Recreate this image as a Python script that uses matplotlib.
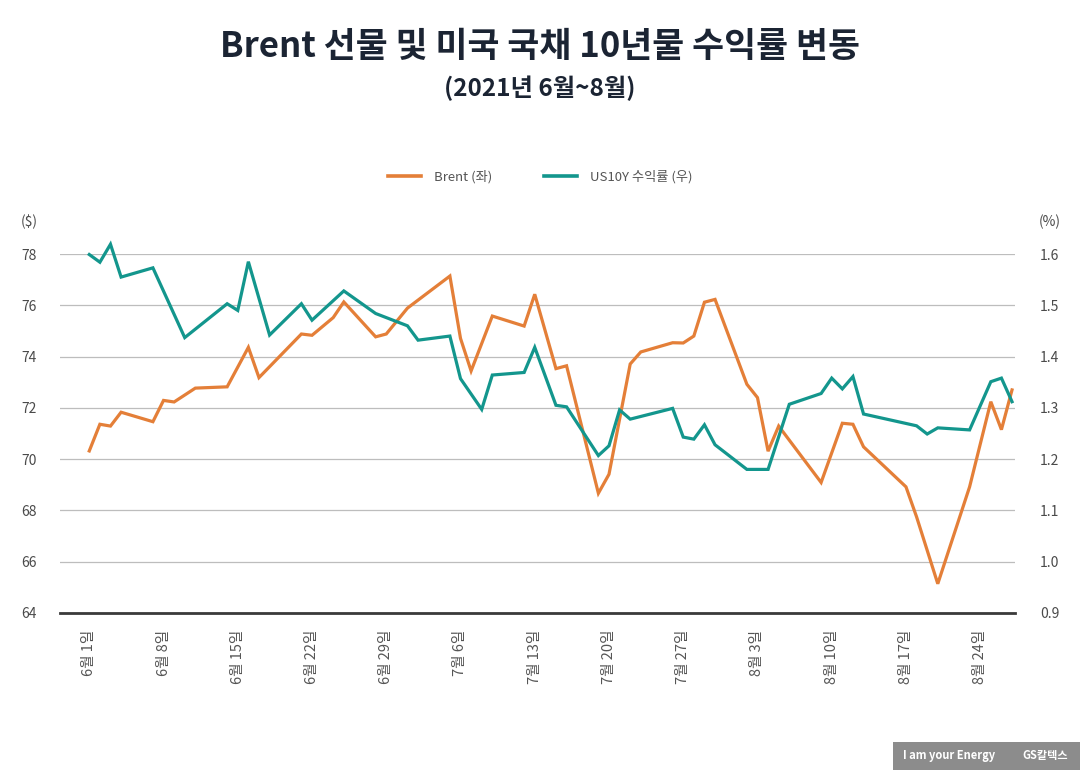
import matplotlib
matplotlib.use('Agg')
import matplotlib.pyplot as plt
import pandas as pd
from matplotlib.lines import Line2D
from matplotlib.patches import Rectangle

plt.rcParams['font.family'] = ['Noto Sans CJK KR', 'DejaVu Sans']

# ---------------- data ----------------
brent_dates = ['2021-06-01', '2021-06-02', '2021-06-03', '2021-06-04', '2021-06-07',
               '2021-06-08', '2021-06-09', '2021-06-11', '2021-06-14', '2021-06-16',
               '2021-06-17', '2021-06-21', '2021-06-22', '2021-06-24', '2021-06-25',
               '2021-06-28', '2021-06-29', '2021-07-01', '2021-07-05', '2021-07-06',
               '2021-07-07', '2021-07-09', '2021-07-12', '2021-07-13', '2021-07-15',
               '2021-07-16', '2021-07-19', '2021-07-20', '2021-07-22', '2021-07-23',
               '2021-07-26', '2021-07-27', '2021-07-28', '2021-07-29', '2021-07-30',
               '2021-08-02', '2021-08-03', '2021-08-04', '2021-08-05', '2021-08-09',
               '2021-08-11', '2021-08-12', '2021-08-13', '2021-08-17', '2021-08-18',
               '2021-08-20', '2021-08-23', '2021-08-25', '2021-08-26', '2021-08-27']
brent_values = [70.32, 71.36, 71.29, 71.83, 71.46,
                72.29, 72.23, 72.77, 72.82, 74.36,
                73.18, 74.88, 74.83, 75.52, 76.13,
                74.77, 74.88, 75.89, 77.14, 74.71,
                73.44, 75.58, 75.19, 76.43, 73.53,
                73.64, 68.67, 69.41, 73.71, 74.18,
                74.54, 74.53, 74.80, 76.12, 76.23,
                72.92, 72.40, 70.31, 71.29, 69.09,
                71.40, 71.36, 70.48, 68.92, 67.75,
                65.14, 68.92, 72.24, 71.15, 72.70]

us10y_dates = ['2021-06-01', '2021-06-02', '2021-06-03', '2021-06-04', '2021-06-07',
               '2021-06-10', '2021-06-14', '2021-06-15', '2021-06-16', '2021-06-18',
               '2021-06-21', '2021-06-22', '2021-06-25', '2021-06-28', '2021-07-01',
               '2021-07-02', '2021-07-05', '2021-07-06', '2021-07-08', '2021-07-09',
               '2021-07-12', '2021-07-13', '2021-07-15', '2021-07-16', '2021-07-19',
               '2021-07-20', '2021-07-21', '2021-07-22', '2021-07-26', '2021-07-27',
               '2021-07-28', '2021-07-29', '2021-07-30', '2021-08-02', '2021-08-04',
               '2021-08-06', '2021-08-09', '2021-08-10', '2021-08-11', '2021-08-12',
               '2021-08-13', '2021-08-18', '2021-08-19', '2021-08-20', '2021-08-23',
               '2021-08-25', '2021-08-26', '2021-08-27']
us10y_values = [1.599, 1.584, 1.619, 1.555, 1.573,
                1.437, 1.503, 1.490, 1.585, 1.442,
                1.503, 1.471, 1.528, 1.484, 1.460,
                1.432, 1.440, 1.357, 1.297, 1.364,
                1.369, 1.418, 1.305, 1.302, 1.207,
                1.226, 1.296, 1.278, 1.299, 1.243,
                1.239, 1.267, 1.228, 1.180, 1.180,
                1.307, 1.328, 1.358, 1.337, 1.361,
                1.288, 1.265, 1.249, 1.261, 1.257,
                1.351, 1.358, 1.312]

tick_dates = ['2021-06-01', '2021-06-08', '2021-06-15', '2021-06-22', '2021-06-29',
              '2021-07-06', '2021-07-13', '2021-07-20', '2021-07-27', '2021-08-03',
              '2021-08-10', '2021-08-17', '2021-08-24']
tick_labels = ['6월 1일', '6월 8일', '6월 15일', '6월 22일', '6월 29일',
               '7월 6일', '7월 13일', '7월 20일', '7월 27일', '8월 3일',
               '8월 10일', '8월 17일', '8월 24일']

left_ticks = [64, 66, 68, 70, 72, 74, 76, 78]
right_ticks = [0.9, 1.0, 1.1, 1.2, 1.3, 1.4, 1.5, 1.6]
right_tick_labels = ['0.9', '1.0', '1.1', '1.2', '1.3', '1.4', '1.5', '1.6']

title = 'Brent 선물 및 미국 국채 10년물 수익률 변동'
subtitle = '(2021년 6월~8월)'
series_names = ['Brent (좌)', 'US10Y 수익률 (우)']

# ---------------- style ----------------
ORANGE = '#E47F38'
TEAL = '#13968D'
GRID = '#BDBDBD'
LABEL = '#4a4a4a'
W, H = 1080, 770

fig = plt.figure(figsize=(W / 100, H / 100), dpi=100)
fig.patch.set_facecolor('white')

ax_l, ax_r, ax_t, ax_b = 60, 1015, 254, 613
ax = fig.add_axes([ax_l / W, 1 - ax_b / H, (ax_r - ax_l) / W, (ax_b - ax_t) / H])
ax2 = ax.twinx()

bd = pd.to_datetime(brent_dates)
ud = pd.to_datetime(us10y_dates)
td = pd.to_datetime(tick_dates)

start = pd.Timestamp('2021-06-01')
ax.set_xlim(start - pd.Timedelta(days=2.76), start + pd.Timedelta(days=87.28))

ax.plot(bd, brent_values, color=ORANGE, lw=2.3, clip_on=False, solid_joinstyle='miter', zorder=3)
ax2.plot(ud, us10y_values, color=TEAL, lw=2.3, clip_on=False, solid_joinstyle='miter', zorder=3)

ax.set_ylim(64, 78)
ax2.set_ylim(0.9, 1.6)
ax.set_yticks(left_ticks)
ax.set_yticklabels([str(v) for v in left_ticks])
ax2.set_yticks(right_ticks)
ax2.set_yticklabels(right_tick_labels)

ax.grid(axis='y', color=GRID, lw=0.9, zorder=0)
ax.grid(axis='x', visible=False)
ax.set_axisbelow(True)

for a in (ax, ax2):
    for s in ('top', 'left', 'right', 'bottom'):
        a.spines[s].set_visible(False)
ax.spines['bottom'].set_visible(True)
ax.spines['bottom'].set_color('#3a3a3a')
ax.spines['bottom'].set_linewidth(2.0)

ax.set_xticks(td)
ax.set_xticklabels(tick_labels, rotation=90, va='top', ha='center', fontsize=10.5, color='#555555')
ax.tick_params(axis='x', length=0, pad=12)

ax.tick_params(axis='y', length=0, pad=22.5, labelsize=10, labelcolor=LABEL)
for lbl in ax.get_yticklabels():
    lbl.set_ha('center')
ax2.tick_params(axis='y', length=0, pad=25, labelsize=10, labelcolor=LABEL)
for lbl in ax2.get_yticklabels():
    lbl.set_ha('center')

# unit labels
fig.text(29 / W, 1 - 222 / H, '($)', ha='center', va='center', fontsize=10, color=LABEL)
fig.text(1050 / W, 1 - 222 / H, '(%)', ha='center', va='center', fontsize=10, color=LABEL)

# legend
handles = [Line2D([], [], color=ORANGE, lw=2.6), Line2D([], [], color=TEAL, lw=2.6)]
fig.legend(handles, series_names, loc='center', bbox_to_anchor=(540 / W, 1 - 177 / H),
           ncol=2, frameon=False, fontsize=9.5, handlelength=2.5, handletextpad=1.0,
           columnspacing=3.9, labelcolor='#555555')

# titles
fig.text(540 / W, 1 - 46 / H, title, ha='center', va='center', fontsize=25,
         fontweight='bold', color='#1b2433')
fig.text(540 / W, 1 - 88 / H, subtitle, ha='center', va='center', fontsize=17.5,
         fontweight='bold', color='#1b2433')

# logo badge
fig.patches.append(Rectangle((893 / W, 0), (W - 893) / W, 28 / H, transform=fig.transFigure,
                             facecolor='#8c8c8c', edgecolor='none'))
fig.text(903 / W, 1 - 756 / H, 'I am your Energy', ha='left', va='center', fontsize=8,
         fontweight='bold', color='white')
fig.text(1068 / W, 1 - 756 / H, 'GS칼텍스', ha='right', va='center', fontsize=8,
         fontweight='bold', color='white')

fig.savefig('out.png', dpi=100, facecolor='white')
